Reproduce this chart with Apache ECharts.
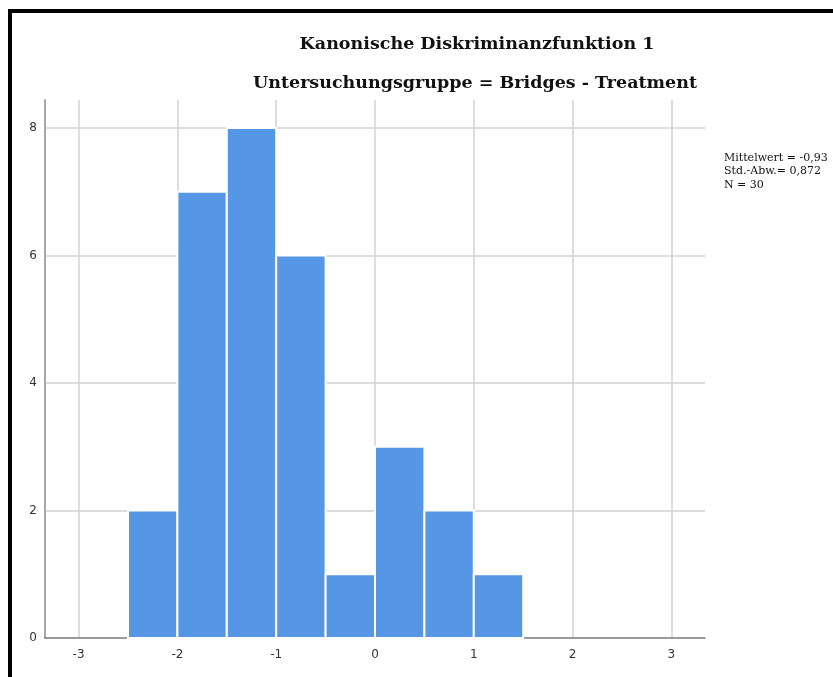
<!DOCTYPE html>
<html>
<head>
<meta charset="utf-8">
<script src="https://cdn.jsdelivr.net/npm/echarts@6/dist/echarts.min.js"></script>
<style>
  html, body { margin: 0; padding: 0; background: #fff; }
  #frame { position: absolute; left: 8px; top: 9px; width: 825px; height: 668px;
           border-top: 4px solid #000; border-left: 4px solid #000; box-sizing: border-box; }
  #chart { position: absolute; left: 0; top: 0; width: 833px; height: 677px; }
</style>
</head>
<body>
<div id="chart"></div>
<div id="frame"></div>
<script>
// Histogram bins (lower edge, upper edge) and counts
const binStart = [-2.5, -2.0, -1.5, -1.0, -0.5, 0.0, 0.5, 1.0];
const binEnd   = [-2.0, -1.5, -1.0, -0.5, 0.0, 0.5, 1.0, 1.5];
const counts   = [2, 7, 8, 6, 1, 3, 2, 1];
const xTicks = [-3, -2, -1, 0, 1, 2, 3];
const yTicks = [0, 2, 4, 6, 8];
const titleText = 'Kanonische Diskriminanzfunktion 1';
const subText = 'Untersuchungsgruppe = Bridges - Treatment';
const statsLines = ['Mittelwert = -0,93', 'Std.-Abw.= 0,872', 'N = 30'];

const chart = echarts.init(document.getElementById('chart'), null, { renderer: 'canvas' });

const barData = binStart.map((s, i) => [s, binEnd[i], counts[i]]);
const gridColor = '#d2d2d2';
const serif = '"DejaVu Serif", "Liberation Serif", serif';

chart.setOption({
  animation: false,
  backgroundColor: '#fff',
  title: [
    { text: titleText, left: 472, top: 30, textAlign: 'center',
      textStyle: { fontFamily: serif, fontWeight: 'bold', fontSize: 17.5, color: '#111' } },
    { text: subText, left: 470, top: 69, textAlign: 'center',
      textStyle: { fontFamily: serif, fontWeight: 'bold', fontSize: 17.5, color: '#111' } },
    { text: statsLines.join('\n'), left: 719, top: 146, padding: 5,
      textStyle: { fontFamily: serif, fontWeight: 'normal', fontSize: 11, lineHeight: 13.5, color: '#111' } }
  ],
  grid: { left: 45, top: 100, width: 660, height: 538 },
  xAxis: {
    type: 'value', min: -3.34, max: 3.34,
    axisLine: { show: true, onZero: false, lineStyle: { color: '#7a7a7a', width: 1.5 } },
    axisTick: { show: false, customValues: xTicks },
    axisLabel: { customValues: xTicks, color: '#333', fontSize: 12, margin: 11,
                 fontFamily: '"DejaVu Sans", sans-serif' },
    splitLine: { show: false }
  },
  yAxis: {
    type: 'value', min: 0, max: 8.44,
    axisLine: { show: true, onZero: false, lineStyle: { color: '#a8a8a8', width: 2 } },
    axisTick: { show: false, customValues: yTicks },
    axisLabel: { customValues: yTicks, color: '#333', fontSize: 12, margin: 8,
                 fontFamily: '"DejaVu Sans", sans-serif' },
    splitLine: { show: false }
  },
  series: [
    {
      // grid lines at tick positions, kept behind the bars
      type: 'line', data: [], silent: true, z: 0,
      markLine: {
        silent: true, symbol: 'none', label: { show: false }, z: 0,
        lineStyle: { color: gridColor, type: 'solid', width: 1.5 },
        data: xTicks.map(v => ({ xAxis: v })).concat(yTicks.filter(v => v > 0).map(v => ({ yAxis: v })))
      }
    },
    {
      type: 'custom',
      data: barData,
      z: 10,
      renderItem: function (params, api) {
        const p0 = api.coord([api.value(0), api.value(2)]);
        const p1 = api.coord([api.value(1), 0]);
        return {
          type: 'rect',
          shape: { x: p0[0], y: p0[1], width: p1[0] - p0[0], height: p1[1] - p0[1] },
          style: { fill: '#5596e5', stroke: '#ffffff', lineWidth: 2 }
        };
      },
      encode: { x: [0, 1], y: 2 }
    }
  ]
});
</script>
</body>
</html>
